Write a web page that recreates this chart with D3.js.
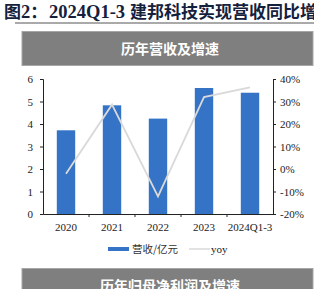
<!DOCTYPE html>
<html>
<head>
<meta charset="utf-8">
<script src="https://cdn.jsdelivr.net/npm/d3@7"></script>
<style>
  html, body { margin: 0; padding: 0; background: #fff; overflow: hidden; }
  #chart { width: 314px; height: 289px; }
  .num { font-family: "Liberation Serif", "DejaVu Serif", serif; font-size: 11px; fill: #222; }
  .cjk { font-family: "Noto Sans CJK SC", sans-serif; }
</style>
</head>
<body>
<div id="chart"></div>
<script>
  /* ── data ─────────────────────────────────────────── */
  const categories = ["2020", "2021", "2022", "2023", "2024Q1-3"];
  const revenue = [3.72, 4.83, 4.24, 5.60, 5.39];       // 营收/亿元
  const yoy = [-2.1, 28.6, -12.2, 32.0, 36.3];           // %
  const leftTicks = [0, 1, 2, 3, 4, 5, 6];
  const rightTicks = [-20, -10, 0, 10, 20, 30, 40];

  const W = 314, H = 289;
  const plot = { left: 43, right: 273, top: 79, bottom: 214 };

  const svg = d3.select("#chart").append("svg")
    .attr("width", W).attr("height", H);

  /* ── title ────────────────────────────────────────── */
  const title = svg.append("text")
    .attr("x", 4).attr("y", 18)
    .style("font-weight", "bold")
    .attr("fill", "#14213d");
  const serif = "'Liberation Serif', serif";
  title.append("tspan").attr("class", "cjk").style("font-size", "17px").text("图");
  title.append("tspan").style("font-family", serif).style("font-size", "18.5px").text("2");
  title.append("tspan").attr("class", "cjk").style("font-size", "17px").text("：");
  title.append("tspan").attr("x", 49)
    .style("font-family", serif).style("font-size", "18.5px")
    .text("2024Q1-3");
  title.append("tspan").attr("x", 130).attr("class", "cjk").style("font-size", "17px")
    .text("建邦科技实现营收同比增长");

  svg.append("line")
    .attr("x1", 15).attr("x2", W).attr("y1", 23).attr("y2", 23)
    .attr("stroke", "#555").attr("stroke-width", 1);

  // header boxes
  const header = (y, label) => {
    svg.append("rect")
      .attr("x", 22).attr("y", y).attr("width", 291).attr("height", 34)
      .attr("fill", "#7f7f7f").attr("stroke", "#a6a6a6").attr("stroke-width", 1);
    svg.append("text")
      .attr("x", 170).attr("y", y + 22)
      .attr("text-anchor", "middle")
      .attr("class", "cjk")
      .style("font-size", "14px").style("font-weight", "bold")
      .attr("fill", "#fff")
      .text(label);
  };
  header(31.5, "历年营收及增速");
  header(268.5, "历年归母净利润及增速");

  /* ── scales ───────────────────────────────────────── */
  const x = d3.scaleBand()
    .domain(categories)
    .range([plot.left, plot.right])
    .paddingInner(0.6).paddingOuter(0.3);

  const xPoint = d => x(d) + x.bandwidth() / 2;

  const yL = d3.scaleLinear().domain([0, 6]).range([plot.bottom, plot.top]);
  const yR = d3.scaleLinear().domain([-20, 40]).range([plot.bottom, plot.top]);

  /* ── bars ─────────────────────────────────────────── */
  svg.append("g").selectAll("rect")
    .data(revenue)
    .join("rect")
      .attr("x", (d, i) => x(categories[i]))
      .attr("y", d => yL(d))
      .attr("width", x.bandwidth())
      .attr("height", d => yL(0) - yL(d))
      .attr("fill", "#3473c5");

  /* ── yoy line ─────────────────────────────────────── */
  const line = d3.line()
    .x((d, i) => xPoint(categories[i]))
    .y(d => yR(d));

  svg.append("path")
    .datum(yoy)
    .attr("d", line)
    .attr("fill", "none")
    .attr("stroke", "#d9d9d9")
    .attr("stroke-width", 1.8);

  /* ── axes ─────────────────────────────────────────── */
  const gL = svg.append("g")
    .attr("transform", `translate(${plot.left},0)`)
    .call(d3.axisLeft(yL).tickValues(leftTicks).tickSize(3).tickPadding(7).tickFormat(d3.format("d")));
  const gR = svg.append("g")
    .attr("transform", `translate(${plot.right},0)`)
    .call(d3.axisRight(yR).tickValues(rightTicks).tickSize(3).tickPadding(4).tickFormat(d => d + "%"));

  // x axis: ticks between categories
  const gX = svg.append("g")
    .attr("transform", `translate(0,${plot.bottom})`)
    .call(d3.axisBottom(x).tickSize(0).tickPadding(9));

  const step = x.step();
  gX.selectAll(".sep")
    .data(categories.slice(1))
    .join("line")
      .attr("class", "sep")
      .attr("x1", d => x(d) - x.paddingInner() * step / 2)
      .attr("x2", d => x(d) - x.paddingInner() * step / 2)
      .attr("y1", 0).attr("y2", 3)
      .attr("stroke", "#222");

  [gL, gR, gX].forEach(g => {
    g.select(".domain").attr("stroke", "#222");
    g.selectAll(".tick line").attr("stroke", "#222");
    g.selectAll(".tick text").attr("class", "num").attr("fill", "#222");
  });

  /* ── legend ───────────────────────────────────────── */
  const lg = svg.append("g").attr("transform", "translate(0,249)");
  lg.append("rect").attr("x", 108).attr("y", -2).attr("width", 21).attr("height", 4).attr("fill", "#3473c5");
  lg.append("text").attr("x", 132).attr("y", 4).attr("class", "cjk")
    .style("font-size", "10.5px").attr("fill", "#333").text("营收/亿元");
  lg.append("line").attr("x1", 189).attr("x2", 210).attr("y1", 0).attr("y2", 0)
    .attr("stroke", "#d9d9d9").attr("stroke-width", 1.5);
  lg.append("text").attr("x", 211).attr("y", 4).attr("class", "num").text("yoy");
</script>
</body>
</html>
